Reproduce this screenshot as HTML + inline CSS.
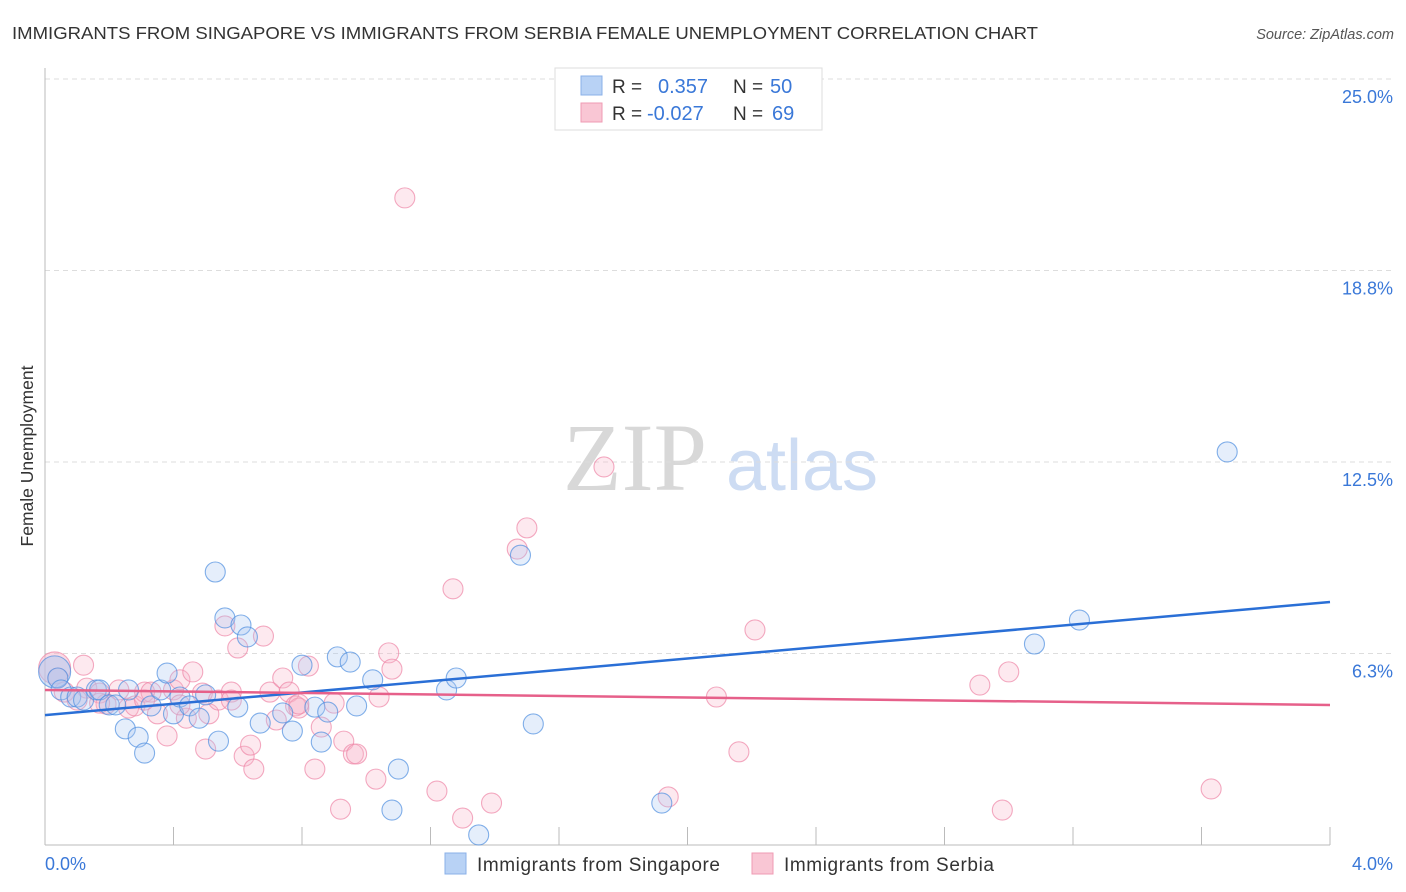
<!DOCTYPE html>
<html><head><meta charset="utf-8"><style>
body{margin:0;background:#fff;font-family:"Liberation Sans",sans-serif;}
svg{display:block}
</style></head><body>
<svg id="chart" width="1406" height="892">
<text x="12" y="39" font-size="17.5" fill="#333" textLength="1026" lengthAdjust="spacingAndGlyphs">IMMIGRANTS FROM SINGAPORE VS IMMIGRANTS FROM SERBIA FEMALE UNEMPLOYMENT CORRELATION CHART</text>
<text x="1394" y="39" font-size="14.5" fill="#555" font-style="italic" text-anchor="end">Source: ZipAtlas.com</text>
<text x="33" y="456" font-size="17.5" fill="#333" text-anchor="middle" transform="rotate(-90 33 456)">Female Unemployment</text>
<g>
<text x="635" y="490" font-size="96" fill="#d8d8d8" font-family="Liberation Serif,serif" text-anchor="middle">ZIP</text>
<text x="802" y="490" font-size="72" fill="#cddcf3" text-anchor="middle">atlas</text>
</g>
<g id="grid"></g><g id="axes"></g><g id="pts"></g><g id="lines"></g>
<g>
<rect x="555" y="68" width="267" height="62" fill="#fff" stroke="#ddd"/>
<rect x="581" y="76" width="21" height="19" fill="#b8d2f5" stroke="#8ab0e8"/>
<rect x="581" y="103" width="21" height="19" fill="#f9c6d4" stroke="#ef9bb3"/>
<text x="612" y="93" font-size="19" fill="#333">R =</text>
<text x="658" y="93" font-size="20" fill="#3a78d8">0.357</text>
<text x="733" y="93" font-size="19" fill="#333">N =</text>
<text x="770" y="93" font-size="20" fill="#3a78d8">50</text>
<text x="612" y="120" font-size="19" fill="#333">R =</text>
<text x="647" y="120" font-size="20" fill="#3a78d8">-0.027</text>
<text x="733" y="120" font-size="19" fill="#333">N =</text>
<text x="772" y="120" font-size="20" fill="#3a78d8">69</text>
</g>
<g>
<rect x="445" y="853" width="21" height="21" fill="#b8d2f5" stroke="#8ab0e8"/>
<text x="477" y="871" font-size="19" fill="#333" textLength="243">Immigrants from Singapore</text>
<rect x="752" y="853" width="21" height="21" fill="#f9c6d4" stroke="#ef9bb3"/>
<text x="784" y="871" font-size="19" fill="#333" textLength="210">Immigrants from Serbia</text>
</g>
</svg>
<script>
const yTicks=[6.25,12.5,18.75,25];
const yTickLabels=["6.3%","12.5%","18.8%","25.0%"];
const xTickLabels=["0.0%","4.0%"];
const blueX=[0.03,0.04,0.05,0.08,0.10,0.12,0.16,0.17,0.20,0.22,0.25,0.26,0.29,0.31,0.33,0.36,0.38,0.40,0.42,0.45,0.48,0.50,0.53,0.54,0.56,0.60,0.61,0.63,0.67,0.74,0.77,0.80,0.84,0.86,0.88,0.91,0.95,0.97,1.02,1.10,1.08,1.25,1.28,1.35,1.48,1.52,1.92,3.08,3.22,3.68];
const blueY=[5.65,5.45,5.06,4.83,4.83,4.73,5.06,5.06,4.57,4.57,3.79,5.06,3.52,3.00,4.54,5.06,5.61,4.28,4.83,4.54,4.14,4.90,8.91,3.39,7.41,4.50,7.18,6.79,3.98,4.31,3.72,5.87,4.50,3.36,4.34,6.14,5.97,4.54,5.39,2.48,1.14,5.06,5.45,0.33,9.46,3.95,1.37,6.56,7.34,12.83];
const pinkX=[0.03,0.04,0.06,0.12,0.13,0.17,0.19,0.23,0.26,0.28,0.31,0.33,0.35,0.38,0.40,0.42,0.44,0.46,0.49,0.50,0.51,0.54,0.56,0.58,0.60,0.62,0.64,0.65,0.68,0.70,0.72,0.74,0.76,0.78,0.79,0.82,0.84,0.86,0.90,0.92,0.93,0.96,0.97,1.03,1.04,1.07,1.08,1.12,1.22,1.27,1.30,1.39,1.47,1.50,1.74,1.94,2.09,2.16,2.21,2.91,2.98,3.00,3.63,0.17,0.31,0.58,0.42,0.10,0.79];
const pinkY=[5.78,5.45,4.99,5.87,5.12,4.96,4.60,5.06,4.47,4.54,4.99,4.99,4.28,3.56,5.06,5.39,4.14,5.65,4.96,3.13,4.28,4.73,7.15,4.99,6.43,2.90,3.26,2.48,6.82,4.99,4.08,5.45,4.99,4.54,4.47,5.84,2.48,3.85,4.63,1.17,3.39,2.97,2.97,2.15,4.83,6.27,5.74,21.12,1.76,8.36,0.88,1.37,9.66,10.35,12.34,1.57,4.83,3.04,7.02,5.22,1.14,5.65,1.83,4.63,4.73,4.73,4.57,4.73,4.60];
const blueTrend=[4.24,7.93];
const pinkTrend=[5.06,4.57];
const X0=45,X1=1330,YB=845,YT=79;
const sx=v=>X0+v/4*(X1-X0);
const sy=v=>YB-v/25*(YB-YT);
const NS="http://www.w3.org/2000/svg";
function mk(t,a,p){const e=document.createElementNS(NS,t);for(const k in a)e.setAttribute(k,a[k]);p.appendChild(e);return e;}
const grid=document.getElementById('grid'),axes=document.getElementById('axes'),pts=document.getElementById('pts'),lines=document.getElementById('lines');
yTicks.forEach((v,i)=>{
 const l=mk('line',{x1:X0,x2:1395,y1:sy(v),y2:sy(v),stroke:'#ddd','stroke-dasharray':'5,4'},grid);
 
 
 const t=mk('text',{x:1393,y:sy(v)+24,'font-size':18,fill:'#3a78d8','text-anchor':'end'},grid);
 t.textContent=yTickLabels[i];
 
 
});
const ya=mk('line',{x1:X0,x2:X0,y1:68,y2:YB,stroke:'#bbb'},axes);


const xa=mk('line',{x1:X0,x2:X1,y1:YB,y2:YB,stroke:'#bbb'},axes);


for(let k=1;k<=10;k++){
 const tk=mk('line',{x1:X0+k*(X1-X0)/10,x2:X0+k*(X1-X0)/10,y1:827,y2:YB,stroke:'#bbb'},axes);
 
 
}
[[45,'start'],[1393,'end']].forEach((p,i)=>{
 const t=mk('text',{x:p[0],y:870,'font-size':18,fill:'#3a78d8','text-anchor':p[1]},axes);
 t.textContent=xTickLabels[i];
 
 
});
function dots(xs,ys,fill,stroke,name){
 xs.forEach((x,i)=>{
  const c=mk('circle',{cx:sx(x),cy:sy(ys[i]),r:i===0?16:10,fill:fill,'fill-opacity':i===0?0.5:0.3,stroke:stroke,'stroke-width':1.1,'stroke-opacity':0.7},pts);
  
  
 });
}
dots(pinkX,pinkY,'#f7b6c9','#ee86a6','serbia-point');
dots(blueX,blueY,'#a9c8f2','#4f8ee0','singapore-point');
const bl=mk('line',{x1:sx(0),y1:sy(blueTrend[0]),x2:sx(4),y2:sy(blueTrend[1]),stroke:'#2a6fd6','stroke-width':2.5},lines);


const pl=mk('line',{x1:sx(0),y1:sy(pinkTrend[0]),x2:sx(4),y2:sy(pinkTrend[1]),stroke:'#e6608a','stroke-width':2.5},lines);


</script>
</body></html>
